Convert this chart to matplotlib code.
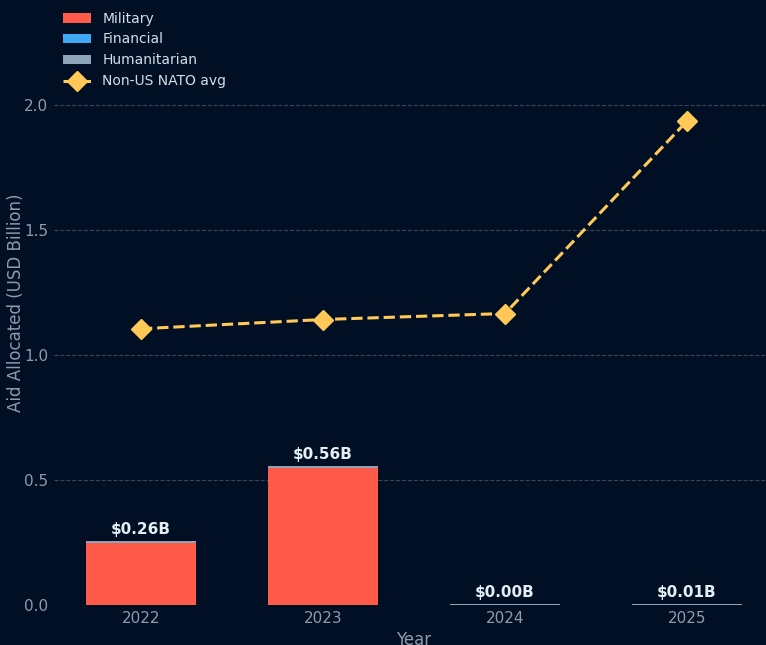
import matplotlib
matplotlib.use("Agg")
import matplotlib.pyplot as plt
import numpy as np

years = ["2022", "2023", "2024", "2025"]
military = [0.25, 0.548, 0.0, 0.0]
financial = [0.0, 0.002, 0.0, 0.0]
humanitarian = [0.008, 0.008, 0.003, 0.006]
totals = [0.26, 0.56, 0.00, 0.01]
nato_avg = [1.105, 1.142, 1.166, 1.936]

bg = "#000f24"
txt = "#8c9bb0"

fig = plt.figure(figsize=(7.66, 6.45), dpi=100)
fig.patch.set_facecolor(bg)
ax = fig.add_axes([0.070, 0.062, 0.941, 0.938])
ax.set_facecolor(bg)

x = np.arange(len(years))
w = 0.6
mil = np.array(military)
fin = np.array(financial)
hum = np.array(humanitarian)
b1 = ax.bar(x, mil, w, color="#ff5a4a", label="Military", zorder=2)
b2 = ax.bar(x, fin, w, bottom=mil, color="#3fa9f5", label="Financial", zorder=2)
b3 = ax.bar(x, hum, w, bottom=mil + fin, color="#8fa3b8", label="Humanitarian", zorder=2)

for i, t in enumerate(totals):
    ax.text(x[i], mil[i] + fin[i] + hum[i] + 0.016, "$%.2fB" % t, ha="center", va="bottom",
            color="#e6edf5", fontsize=11, fontweight="bold", zorder=4)

ln, = ax.plot(x, nato_avg, "--", color="#ffc857", linewidth=2.2, marker="D", markersize=10,
              label="Non-US NATO avg", zorder=3)

ax.set_xlim(-0.48, 3.48)
ax.set_ylim(0, 2.42)
ax.set_xticks(x)
ax.set_xticklabels(years)
ax.set_yticks([0.0, 0.5, 1.0, 1.5, 2.0])
ax.tick_params(colors=txt, labelsize=11, length=0, pad=4)
ax.grid(axis="y", linestyle="--", color="#3a4658", linewidth=0.8, zorder=0)
for s in ax.spines.values():
    s.set_visible(False)
ax.set_ylabel("Aid Allocated (USD Billion)", color=txt, fontsize=12)
ax.yaxis.set_label_coords(-0.040, 0.5)
ax.set_xlabel("Year", color=txt, fontsize=12)

leg = ax.legend([b1, b2, b3, ln], ["Military", "Financial", "Humanitarian", "Non-US NATO avg"],
                loc="upper left", frameon=False, fontsize=10, labelcolor="#d5dde8",
                borderaxespad=0.3, bbox_to_anchor=(0.0, 0.997))

fig.savefig("out.png", dpi=100, facecolor=bg)
